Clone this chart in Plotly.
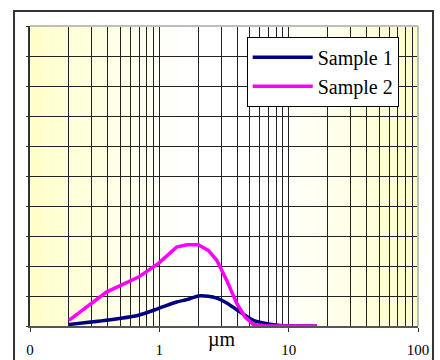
import plotly.graph_objects as go

# Data (particle size in µm, distribution values)
size_um = [0.2, 0.39, 0.69, 0.98, 1.36, 1.63, 2.0, 2.39, 2.78, 3.32, 3.97, 4.6, 5.34, 6.78, 8.6, 16.5]
sample1 = [0.05, 0.19, 0.36, 0.58, 0.80, 0.88, 1.00, 0.99, 0.93, 0.77, 0.54, 0.36, 0.19, 0.08, 0.02, 0.0]
sample2 = [0.19, 1.13, 1.63, 2.08, 2.63, 2.71, 2.71, 2.52, 2.19, 1.52, 0.75, 0.30, 0.05, 0.0, 0.0, 0.0]
series_names = ["Sample 1", "Sample 2"]
series_colors = ["#000080", "#FF00FF"]
tick_vals = [0.1, 1, 10, 100]
tick_text = ["0", "1", "10", "100"]
axis_title = "µm"

SERIF = "Liberation Serif"

fig = go.Figure()
fig.add_trace(go.Scatter(x=size_um, y=sample1, mode="lines", name=series_names[0],
                         line=dict(color=series_colors[0], width=3.5, shape="spline", smoothing=0.6)))
fig.add_trace(go.Scatter(x=size_um, y=sample2, mode="lines", name=series_names[1],
                         line=dict(color=series_colors[1], width=3.5)))

# gradient background: yellow at the edges, white in the middle
shapes = []
N = 80
for i in range(N):
    t = (i + 0.5) / N
    if t < 0.42:
        a = 1 - t / 0.42
    elif t < 0.65:
        a = 0.0
    else:
        a = (t - 0.65) / 0.35
    b = int(round(255 - a * (255 - 202)))
    shapes.append(dict(type="rect", xref="paper", yref="paper", x0=i / N, x1=(i + 1) / N + 0.002,
                       y0=0, y1=1, fillcolor=f"rgb(255,255,{b})", line=dict(width=0), layer="below"))
# plot border top/right (light grey)
shapes.append(dict(type="line", xref="paper", yref="paper", x0=0, x1=1, y0=1, y1=1,
                   line=dict(color="#bdbdbd", width=2)))
shapes.append(dict(type="line", xref="paper", yref="paper", x0=1, x1=1, y0=0, y1=1,
                   line=dict(color="#bdbdbd", width=2)))
# outer frame
shapes.append(dict(type="rect", xref="paper", yref="paper", x0=-0.0412, x1=1.0387, y0=-0.15, y1=1.05,
                   line=dict(color="#333333", width=2), fillcolor="rgba(0,0,0,0)"))

fig.update_layout(
    width=440, height=360,
    margin=dict(l=30, r=22, t=26, b=34.3, autoexpand=False),
    paper_bgcolor="white",
    plot_bgcolor="rgba(0,0,0,0)",
    shapes=shapes,
    showlegend=True,
    legend=dict(x=0.5585, y=0.9643, xanchor="left", yanchor="top",
                bgcolor="white", bordercolor="black", borderwidth=1,
                font=dict(family=SERIF, size=20, color="black"),
                itemwidth=60, tracegroupgap=0, entrywidth=130, entrywidthmode="pixels"),
    annotations=[dict(text=axis_title, xref="paper", yref="paper", x=0.495, y=-0.045,
                      xanchor="center", yanchor="middle", showarrow=False,
                      font=dict(family=SERIF, size=20, color="black"))],
)
fig.update_xaxes(type="log", range=[-1, 2], tickvals=tick_vals, ticktext=tick_text,
                 showgrid=True, gridcolor="#222222", gridwidth=1,
                 minor=dict(dtick="D1", showgrid=True, gridcolor="#222222", gridwidth=1, ticks=""),
                 ticks="outside", ticklen=4, tickcolor="#333333",
                 showline=True, linecolor="#555555", linewidth=2,
                 ticklabelstandoff=5, automargin=False,
                 tickfont=dict(family=SERIF, size=15, color="black"), zeroline=False)
fig.update_yaxes(range=[0, 10], dtick=1, showgrid=True, gridcolor="#222222", gridwidth=1,
                 showticklabels=False, ticks="outside", ticklen=2, tickcolor="#333333",
                 showline=True, linecolor="#333333", linewidth=2, zeroline=False, automargin=False)

fig.write_html("out.html", config={"displayModeBar": False},
               post_script="document.body.style.margin='0';document.body.style.padding='0';")
